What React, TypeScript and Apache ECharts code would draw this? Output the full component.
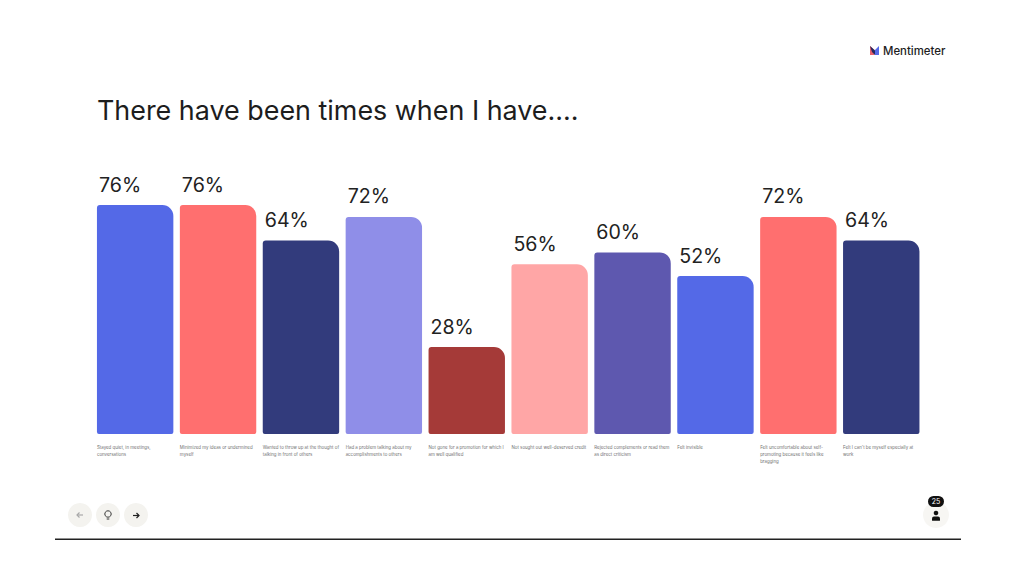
import React, { useEffect, useRef } from "react";
import * as echarts from "echarts";

const categories = [
  "Stayed quiet, in meetings,\nconversations",
  "Minimized my ideas or undermined\nmyself",
  "Wanted to throw up at the thought of\ntalking in front of others",
  "Had a problem talking about my\naccomplishments to others",
  "Not gone for a promotion for which I\nam well qualified",
  "Not sought out well-deserved credit",
  "Rejected complements or read them\nas direct criticism",
  "Felt invisible",
  "Felt uncomfortable about self-\npromoting because it feels like\nbragging",
  "Felt I can't be myself especially at\nwork",
];
const values = [76, 76, 64, 72, 28, 56, 60, 52, 72, 64];
const colors = ["#5469E7", "#FF6F6F", "#323B7C", "#8F8EE8", "#A53A38", "#FFA6A6", "#5E58AF", "#5469E7", "#FF6F6F", "#323B7C"];
// every bar in the reference rises a small fixed stub before its value starts
const stub = [1.35, 1.35, 1.35, 1.35, 1.35, 1.35, 1.35, 1.35, 1.35, 1.35];
const title = "There have been times when I have....";
const brand = "Mentimeter";
const responses = "25";

const FONT = "Inter, 'Noto Sans', sans-serif";
const BAR_W = 76.4;

export default function App() {
  const ref = useRef<HTMLDivElement>(null);
  useEffect(() => {
    const chart = echarts.init(ref.current!, undefined, { renderer: "svg" });
    const btn = (x: number, fill: string) => ({ type: "circle", shape: { cx: x, cy: 515, r: 12 }, style: { fill } });
    const stroke = (c: string, w = 1.2) => ({ stroke: c, lineWidth: w, fill: "none" });
    chart.setOption({
      animation: false,
      backgroundColor: "#ffffff",
      grid: { left: 93.7, width: 829, top: 134, height: 300, containLabel: false },
      xAxis: { type: "category", data: categories, axisLine: { show: false }, axisTick: { show: false }, axisLabel: { show: false } },
      yAxis: { type: "value", min: 0, max: 101.35, show: false, splitLine: { show: false } },
      series: [
        {
          type: "bar",
          stack: "total",
          barWidth: BAR_W,
          silent: true,
          data: stub.map((v, i) => ({ value: v, itemStyle: { color: colors[i], borderRadius: [0, 0, 2, 2] } })),
        },
        {
          type: "bar",
          stack: "total",
          barWidth: BAR_W,
          data: values.map((v, i) => ({ value: v, itemStyle: { color: colors[i], borderRadius: [3, 11, 0, 0] } })),
          label: {
            show: true,
            position: [2, -30.5],
            formatter: "{c}%",
            fontFamily: FONT,
            fontSize: 19.6,
            color: "#222222",
          },
        },
        {
          type: "custom",
          data: categories.map((_, i) => i),
          encode: { x: 0 },
          renderItem: (params: any, api: any) => {
            const p = api.coord([api.value(0), 0]);
            return {
              type: "text",
              x: p[0] - BAR_W / 2,
              y: p[1] + 10.5,
              style: {
                text: categories[params.dataIndex],
                font: `4.4px ${FONT}`,
                lineHeight: 6.8,
                fill: "#707070",
                textAlign: "left",
                textVerticalAlign: "top",
              },
            };
          },
          silent: true,
        },
      ],
      graphic: [
        { type: "text", x: 97, y: 96.5, style: { text: title, font: `26.9px ${FONT}`, fill: "#1d1d1d" } },
        // logo
        { type: "polygon", shape: { points: [[870, 46], [874.5, 50], [874.5, 55], [870, 55]] }, style: { fill: "#E8616B" } },
        { type: "polygon", shape: { points: [[870, 46], [875, 50.5], [875, 55], [872, 52]] }, style: { fill: "#23295E" } },
        { type: "polygon", shape: { points: [[879, 46], [875, 50], [875, 55], [879, 55]] }, style: { fill: "#5469E7" } },
        { type: "text", x: 883, y: 45.5, style: { text: brand, font: `500 11.4px ${FONT}`, fill: "#1d1d1d" } },
        // nav buttons
        btn(80, "#F4F3EF"), btn(108, "#F4F3EF"), btn(136, "#F4F3EF"),
        { type: "line", shape: { x1: 77, y1: 515, x2: 83, y2: 515 }, style: stroke("#A8A8A8") },
        { type: "polyline", shape: { points: [[79.5, 512.5], [77, 515], [79.5, 517.5]] }, style: stroke("#A8A8A8") },
        { type: "circle", shape: { cx: 108, cy: 514, r: 3.2 }, style: stroke("#333333", 1) },
        { type: "line", shape: { x1: 106.7, y1: 519, x2: 109.3, y2: 519 }, style: stroke("#333333", 1) },
        { type: "line", shape: { x1: 133, y1: 515.5, x2: 139, y2: 515.5 }, style: stroke("#222222") },
        { type: "polyline", shape: { points: [[136.5, 513], [139, 515.5], [136.5, 518]] }, style: stroke("#222222") },
        // responses
        { type: "circle", shape: { cx: 936, cy: 515, r: 13 }, style: { fill: "#F7F6F3" } },
        { type: "rect", shape: { x: 928, y: 496, width: 16, height: 11, r: 5.5 }, style: { fill: "#111111" } },
        { type: "text", x: 936, y: 501.5, style: { text: responses, font: `7px ${FONT}`, fill: "#ffffff", textAlign: "center", textVerticalAlign: "middle" } },
        { type: "circle", shape: { cx: 936, cy: 513, r: 2.3 }, style: { fill: "#111111" } },
        { type: "rect", shape: { x: 932, y: 516.5, width: 8, height: 4.2, r: [2, 2, 0.5, 0.5] }, style: { fill: "#111111" } },
        // bottom rule
        { type: "rect", shape: { x: 55, y: 538.5, width: 906, height: 1.4 }, style: { fill: "#222222" } },
      ],
    });
    return () => chart.dispose();
  }, []);
  return <div ref={ref} style={{ position: "fixed", left: 0, top: 0, width: 1024, height: 576 }} />;
}
